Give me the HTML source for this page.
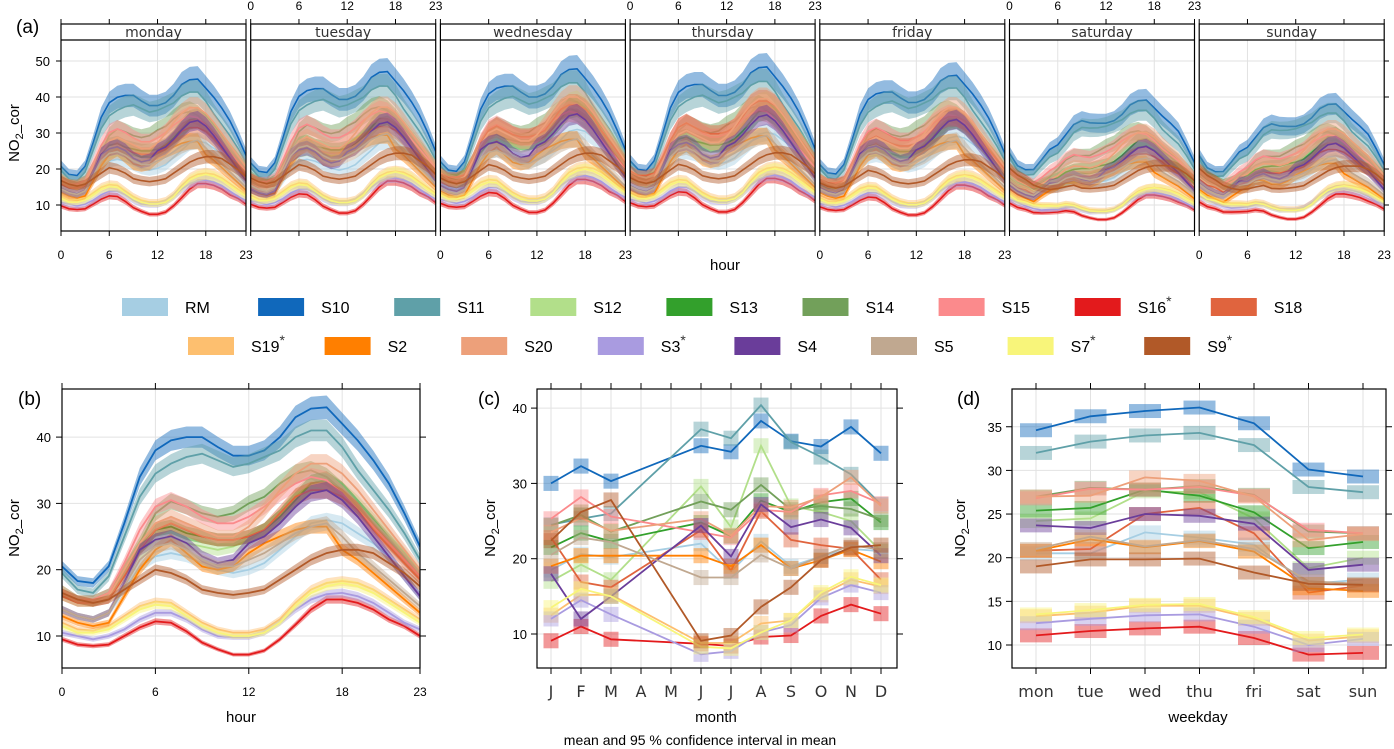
<!DOCTYPE html>
<html><head><meta charset="utf-8"><style>
html,body{margin:0;padding:0;background:#fff;}
svg{display:block;font-family:"Liberation Sans",sans-serif;}
</style></head><body>
<svg id="chart" width="1394" height="749" viewBox="0 0 1394 749" xmlns="http://www.w3.org/2000/svg"></svg>
<script>
// ---- data ----
const seriesNames = ["RM","S10","S11","S12","S13","S14","S15","S16","S18","S19","S2","S20","S3","S4","S5","S7","S9"];
const starred = ["S16","S19","S3","S7","S9"];
const colors = ["#a6cee3","#1068bb","#5fa0a8","#b2df8a","#33a02c","#72a05a","#fb8a8c","#e31a1c","#e0643e","#fdbf6f","#ff7f00","#eda07a","#a99be0","#6a3d9a","#c0a890","#f8f57a","#b15928"];
const hourTicks = [0,6,12,18,23];
const months = ["J","F","M","A","M","J","J","A","S","O","N","D"];
const weekdays = ["mon","tue","wed","thu","fri","sat","sun"];
const dayNames = ["monday","tuesday","wednesday","thursday","friday","saturday","sunday"];
const weekendShape = [1.35,1.3,1.25,1.1,0.95,0.85,0.8,0.85,0.92,0.95,0.97,1,1,1,1,1,1,1,1,1,1.02,1.05,1.05,1.05];

const hourRM  = [14,13,12.5,13.5,17,20.5,22,22.5,22,21,20,19.5,20,21,23,25,27,27.5,27,25.5,24,22,19,16];
const hourS10 = [20.5,18.3,18,20.5,27,34,38,39.5,40,40,38.5,37.2,37.2,38,40,43,44.3,44.5,42,39.5,36.5,33,28.5,23.5];
const hourS11 = [19.5,17,16.5,19,25,31,34.5,36,37,37.5,36.5,35.5,36,37,38,40,41,41,38.5,35,32,29,25.5,21.5];
const hourS12 = [16,15,15,16,19,22.5,24.5,25,24,23.5,23,23.5,24.5,26,28,31,33,33.5,32,30,27.5,25,22.5,19.5];
const hourS13 = [16.5,15.5,15.5,16.5,20,23.5,26,26.5,25.5,25,24.5,24.5,25,26,28,30.5,33,33.5,32,29.5,27,24,21.5,19];
const hourS14 = [17,15.5,15,16,20,24,28.5,30.3,29.5,28.5,28,28.5,30,31,33,34.5,35,34,32,29.5,27,24.5,22,19.5];
const hourS15 = [16.5,15.5,15.5,16.5,21,26,29.5,30.5,29.5,28,27,27,28,29.5,31.5,33,34,33.5,31.5,29,26.5,24,21.5,19];
const hourS16 = [9.5,8.7,8.5,8.7,10,11.3,12.2,12,10.7,9,8,7.2,7.2,7.8,9.5,11.7,14,15.5,15.5,15,14,12.5,11.5,10];
const hourS18 = [16,15,15,15.5,19,23,26,27,26,25,24.5,24.5,25,26,28.5,31,32,32,31,29,26,23.5,21,18.5];
const hourS19 = [12,11,10.8,11.5,13,14.5,15.2,15,13.5,12,11,10.5,10.5,11,12.5,15,17,18,18.3,18,17,15.5,14,12.5];
const hourS2  = [13,12,11.5,12,16,20,23,24.5,22.5,20.5,20,20.5,22.5,24,25,26,26.5,26.5,23,21.5,19.5,17.5,15.5,13.5];
const hourS20 = [17,15.5,15,16,20,24,27,28,27,26,25,25,26.5,29,32,34.5,36,36,34.5,32,29,26,23,20];
const hourS3  = [10.5,10,9.5,10,11,12.5,13.5,13.5,12.5,11,10,9.8,9.8,10.5,12,14,15.5,16.3,16.5,16,15,13.5,12,11];
const hourS4  = [14,13,12.5,13.5,18,23,24.5,25,24,22,21,21.5,24,25,27,29.5,31.5,32,30.5,28,25,22,19,16];
const hourS5  = [14,13,12.5,13.5,17.5,21.5,23.5,24,23,21.5,20.5,20.5,21.5,22.5,24,25.5,26.5,27,25,22.5,20.5,18.5,16.5,14.5];
const hourS7  = [11.5,10.5,10.5,11,12.5,14,14.7,14.5,13,11.5,10.5,10,10,10.5,12,14.5,16.5,17.5,18,17.5,16.5,15,13.5,12];
const hourS9  = [16.5,15.5,15,15.5,17,18.5,20,19.5,18.5,17,16.5,16.2,16.5,17,18.5,20,21.5,22.5,23,23,22.5,21,19.5,17.5];

const monRM  = [18.5,20.6,20.2,null,null,22,18.3,22.3,19,20.3,21.3,21];
const monS10 = [30,32.3,30.3,null,null,35,34.2,38.3,35.6,34.9,37.5,34];
const monS11 = [24.5,25.3,26,null,null,37.2,36,40.4,35.5,33.5,31.2,27.2];
const monS12 = [17,19.2,17.2,null,null,29.6,24.2,35,27,26.2,25,21];
const monS13 = [21.5,23.4,22.3,null,null,24.8,23,27.7,26.2,27.5,28,24.8];
const monS14 = [24.4,25.8,23.6,null,null,27.6,26.5,29.8,26.5,27,26.6,25.2];
const monS15 = [25.3,28.2,25.6,null,null,23.5,22.8,26.5,26.2,28.4,29,27.3];
const monS16 = [9.1,11,9.3,null,null,8.7,8.4,9.6,9.8,12.4,13.9,12.7];
const monS18 = [22.8,16.9,16.2,null,null,23.8,18.4,26.3,22.5,21.8,21.3,17.2];
const monS19 = [12.5,15.2,15.2,null,null,8.8,8.8,11.4,11.8,15.2,17.2,16.3];
const monS2  = [19,20.4,20.4,null,null,20.4,19,21.8,18.7,19.8,21.2,19.6];
const monS20 = [23.5,25.4,23.7,null,null,25.3,23.1,27,26.8,28.2,30.8,27];
const monS3  = [12,14.5,12.6,null,null,7.3,7.7,10.2,11.2,14.8,16.5,15.5];
const monS4  = [18,12,15,null,null,24.4,20.3,27.2,24.2,25.2,24.1,20.4];
const monS5  = [20.5,22.8,22.2,null,null,17.5,17.5,20.5,18.7,20.3,21.8,21.2];
const monS7  = [13.5,16,15,null,null,8.3,8.1,10.2,11.8,15.5,17.6,16.5];
const monS9  = [22.4,26.2,27.8,null,null,9.1,9.8,13.6,16.2,19.8,21.5,21.8];

const wdRM  = [20.5,20.5,22.9,22.3,21.5,17,17.5];
const wdS10 = [34.6,36.2,36.8,37.2,35.4,30.1,29.3];
const wdS11 = [32,33.3,34,34.3,32.9,28.1,27.5];
const wdS12 = [24.2,24.5,27.6,27.5,24.5,18.8,20];
const wdS13 = [25.4,25.7,27.8,27.1,25.2,21.1,21.8];
const wdS14 = [27,28,27.8,28.2,27.2,23,22.8];
const wdS15 = [26.8,27.9,27.8,28.1,27.1,23.2,22.8];
const wdS16 = [11.1,11.6,11.9,12.1,10.8,8.9,9.1];
const wdS18 = [20.8,21,25,25.7,22.8,16,16.8];
const wdS19 = [13.3,13.7,14.5,14.5,13,10.5,11];
const wdS2  = [20.8,22.1,21.2,21.9,20.7,16.5,16.2];
const wdS20 = [27,27.1,29.2,28.8,27,22,22.7];
const wdS3  = [12.5,13,13.4,13.5,12.1,10,10.7];
const wdS4  = [23.7,23.4,25,24.8,23.9,18.6,19.2];
const wdS5  = [21,22.4,21.3,22,21,17.3,17];
const wdS7  = [13.5,14,14.6,14.7,13.2,10.8,11.2];
const wdS9  = [19,19.8,19.8,19.9,18.3,17,16.9];

const hourly = [hourRM,hourS10,hourS11,hourS12,hourS13,hourS14,hourS15,hourS16,hourS18,hourS19,hourS2,hourS20,hourS3,hourS4,hourS5,hourS7,hourS9];
const monthly = [monRM,monS10,monS11,monS12,monS13,monS14,monS15,monS16,monS18,monS19,monS2,monS20,monS3,monS4,monS5,monS7,monS9];
const weekly = [wdRM,wdS10,wdS11,wdS12,wdS13,wdS14,wdS15,wdS16,wdS18,wdS19,wdS2,wdS20,wdS3,wdS4,wdS5,wdS7,wdS9];

// ---- helpers ----
const svg = document.getElementById('chart');
const NS = "http://www.w3.org/2000/svg";
function mk(tag, attrs, parent){
  const e = document.createElementNS(NS, tag);
  for (const k in attrs) e.setAttribute(k, attrs[k]);
  (parent||svg).appendChild(e);
  return e;
}
function txt(x,y,s,size,anchor,parent,extra){
  const t = mk('text',Object.assign({x:x,y:y,'font-size':size,'text-anchor':anchor||'middle',fill:'#000'},extra||{}),parent);
  t.textContent = s;
  return t;
}
let clipId = 0;
function clipRect(x,y,w,h){
  const id='clip'+(clipId++);
  const cp = mk('clipPath',{id:id});
  mk('rect',{x:x,y:y,width:w,height:h},cp);
  return 'url(#'+id+')';
}
function bandPath(pts){
  let d='M'+pts.map(p=>p[0].toFixed(1)+','+p[2].toFixed(1)).join('L');
  d+='L'+pts.slice().reverse().map(p=>p[0].toFixed(1)+','+p[1].toFixed(1)).join('L')+'Z';
  return d;
}
function linePath(pts){ return 'M'+pts.map(p=>p[0].toFixed(1)+','+p[1].toFixed(1)).join('L'); }

// ---- panel (a) ----
const aTop=61, aBottom=231, stripTop=24, stripBot=40, aW=185, aPitch=189.7, aLeft0=61;
const aY = v => 205 - (v-10)*3.6;
const gA = mk('g',{});


txt(16,33,'(a)',19,'start',gA);
for (let d=0; d<7; d++){
  const x0 = aLeft0 + d*aPitch;
  const ax = h => x0 + h*aW/23;
  const g = mk('g',{},gA);
  
  
  hourTicks.forEach(h=>mk('line',{x1:ax(h),x2:ax(h),y1:stripBot,y2:aBottom,stroke:'#e2e2e2','stroke-width':1},g));
  [10,20,30,40,50].forEach(v=>mk('line',{x1:x0,x2:x0+aW,y1:aY(v),y2:aY(v),stroke:'#e2e2e2','stroke-width':1},g));
  const cp = clipRect(x0,stripBot,aW,aBottom-stripBot);
  const gd = mk('g',{'clip-path':cp},g);
  seriesNames.forEach((s,i)=>{
    const wk = weekly[i];
    const mean = wk.reduce((a,b)=>a+b,0)/wk.length;
    const pts = hourly[i].map((v,h)=>{
      const val = v*wk[d]/mean*(d>=5?weekendShape[h]:1);
      return [ax(h), aY(val*0.92), aY(val*1.08), aY(val)];
    });
    const b = mk('path',{d:bandPath(pts),fill:colors[i],'fill-opacity':0.45,stroke:'none'},gd);
    
    
    const l = mk('path',{d:linePath(pts.map(p=>[p[0],p[3]])),fill:'none',stroke:colors[i],'stroke-width':1.6},gd);
    
    
  });
  mk('rect',{x:x0,y:stripTop,width:aW,height:aBottom-stripTop,fill:'none',stroke:'#000','stroke-width':1.2},g);
  mk('line',{x1:x0,x2:x0+aW,y1:stripBot,y2:stripBot,stroke:'#000','stroke-width':1.2},g);
  const st = txt(x0+aW/2,37,dayNames[d],14,'middle',g,{fill:'#333','font-family':'DejaVu Sans, sans-serif'});
  
  const bottomLabels = (d%2===0);
  hourTicks.forEach(h=>{
    mk('line',{x1:ax(h),x2:ax(h),y1:aBottom,y2:aBottom+5,stroke:'#000'},g);
    mk('line',{x1:ax(h),x2:ax(h),y1:stripTop,y2:stripTop-5,stroke:'#000'},g);
    if (bottomLabels) txt(ax(h),259,String(h),12,'middle',g);
    else txt(ax(h),10,String(h),12,'middle',g);
  });
}
[10,20,30,40,50].forEach(v=>{
  mk('line',{x1:61,x2:56,y1:aY(v),y2:aY(v),stroke:'#000'},gA);
  txt(50,aY(v)+5,String(v),13,'end',gA);
  mk('line',{x1:1384,x2:1389,y1:aY(v),y2:aY(v),stroke:'#000'},gA);
});
const aYt = txt(0,0,'',15,'middle',gA,{transform:'translate(19,133) rotate(-90)'});
aYt.innerHTML='NO<tspan font-size="11" dy="4">2</tspan><tspan dy="-4">_cor</tspan>';

txt(725,270,'hour',15,'middle',gA);

// ---- legend ----
const gL = mk('g',{});


seriesNames.forEach((s,i)=>{
  const row = i<9?0:1, col = i<9?i:i-9;
  const rx = row===0 ? 122+col*136.1 : 188+col*136.6;
  const ry = row===0 ? 298 : 337;
  const ge = mk('g',{},gL);
  
  
  mk('rect',{x:rx,y:ry,width:46,height:18,fill:colors[i]},ge);
  const t = txt(rx+63,ry+15,s,16,'start',ge);
  if (starred.indexOf(s)>=0){
    const sp = mk('tspan',{'font-size':14,dy:-7,fill:'#333'},t); sp.textContent='*';
  }
});

function framePanel(g,x0,y0,x1,y1){
  mk('rect',{x:x0,y:y0,width:x1-x0,height:y1-y0,fill:'none',stroke:'#000','stroke-width':1.2},g);
}
function yTitle(g,x,y){
  const t = txt(0,0,'',15,'middle',g,{transform:'translate('+x+','+y+') rotate(-90)'});
  t.innerHTML='NO<tspan font-size="11" dy="4">2</tspan><tspan dy="-4">_cor</tspan>';
  return t;
}

// ---- panel (b) ----
(function(){
  const L=62,R=420,T=389,B=668;
  const bx = h => L + h*(R-L)/23;
  const by = v => 636 - (v-10)*6.63;
  const g = mk('g',{});
  
  
  hourTicks.forEach(h=>mk('line',{x1:bx(h),x2:bx(h),y1:T,y2:B,stroke:'#e2e2e2'},g));
  [10,20,30,40].forEach(v=>mk('line',{x1:L,x2:R,y1:by(v),y2:by(v),stroke:'#e2e2e2'},g));
  const gd = mk('g',{'clip-path':clipRect(L,T,R-L,B-T)},g);
  seriesNames.forEach((s,i)=>{
    const pts = hourly[i].map((v,h)=>[bx(h),by(v*0.96),by(v*1.04),by(v)]);
    const b = mk('path',{d:bandPath(pts),fill:colors[i],'fill-opacity':0.45},gd);
    
    
    const l = mk('path',{d:linePath(pts.map(p=>[p[0],p[3]])),fill:'none',stroke:colors[i],'stroke-width':1.8},gd);
    
    
  });
  framePanel(g,L,T,R,B);
  hourTicks.forEach(h=>{
    mk('line',{x1:bx(h),x2:bx(h),y1:B,y2:B+6,stroke:'#000'},g);
    mk('line',{x1:bx(h),x2:bx(h),y1:T,y2:T-6,stroke:'#000'},g);
    txt(bx(h),696,String(h),12,'middle',g);
  });
  [10,20,30,40].forEach(v=>{
    mk('line',{x1:L,x2:L-6,y1:by(v),y2:by(v),stroke:'#000'},g);
    mk('line',{x1:R,x2:R+6,y1:by(v),y2:by(v),stroke:'#000'},g);
    txt(L-11,by(v)+5,String(v),13,'end',g);
  });
  txt(18,405,'(b)',19,'start',g);
  yTitle(g,19,528);
  txt(241,722,'hour',15,'middle',g);
})();

// ---- panel (c) ----
(function(){
  const L=537,R=897,T=389,B=668;
  const cx = m => 551 + m*(881-551)/11;
  const cy = v => 634 - (v-10)*7.53;
  const g = mk('g',{});
  
  
  months.forEach((m,k)=>mk('line',{x1:cx(k),x2:cx(k),y1:T,y2:B,stroke:'#e2e2e2'},g));
  [10,20,30,40].forEach(v=>mk('line',{x1:L,x2:R,y1:cy(v),y2:cy(v),stroke:'#e2e2e2'},g));
  const gd = mk('g',{'clip-path':clipRect(L,T,R-L,B-T)},g);
  seriesNames.forEach((s,i)=>{
    const pts=[];
    monthly[i].forEach((v,k)=>{
      if (v===null) return;
      const r = mk('rect',{x:cx(k)-7.5,y:cy(v+1),width:15,height:cy(v-1)-cy(v+1),fill:colors[i],'fill-opacity':0.45},gd);
      
      
      pts.push([cx(k),cy(v)]);
    });
    const l = mk('path',{d:linePath(pts),fill:'none',stroke:colors[i],'stroke-width':1.8},gd);
    
    
  });
  framePanel(g,L,T,R,B);
  months.forEach((m,k)=>{
    mk('line',{x1:cx(k),x2:cx(k),y1:B,y2:B+6,stroke:'#000'},g);
    mk('line',{x1:cx(k),x2:cx(k),y1:T,y2:T-6,stroke:'#000'},g);
    txt(cx(k),697,m,16,'middle',g,{fill:'#333','font-family':'DejaVu Sans, sans-serif'});
  });
  [10,20,30,40].forEach(v=>{
    mk('line',{x1:L,x2:L-6,y1:cy(v),y2:cy(v),stroke:'#000'},g);
    mk('line',{x1:R,x2:R+6,y1:cy(v),y2:cy(v),stroke:'#000'},g);
    txt(L-10,cy(v)+5,String(v),13,'end',g);
  });
  txt(478,405,'(c)',19,'start',g);
  yTitle(g,495,528);
  txt(716,722,'month',15,'middle',g);
})();

// ---- panel (d) ----
(function(){
  const L=1012,R=1386,T=389,B=668;
  const dx = k => 1036 + k*(1363-1036)/6;
  const dy = v => 645 - (v-10)*8.73;
  const g = mk('g',{});
  
  
  weekdays.forEach((w,k)=>mk('line',{x1:dx(k),x2:dx(k),y1:T,y2:B,stroke:'#e2e2e2'},g));
  [10,15,20,25,30,35].forEach(v=>mk('line',{x1:L,x2:R,y1:dy(v),y2:dy(v),stroke:'#e2e2e2'},g));
  const gd = mk('g',{'clip-path':clipRect(L,T,R-L,B-T)},g);
  seriesNames.forEach((s,i)=>{
    const pts=[];
    weekly[i].forEach((v,k)=>{
      const r = mk('rect',{x:dx(k)-16,y:dy(v+0.8),width:32,height:dy(v-0.8)-dy(v+0.8),fill:colors[i],'fill-opacity':0.45},gd);
      
      
      pts.push([dx(k),dy(v)]);
    });
    const l = mk('path',{d:linePath(pts),fill:'none',stroke:colors[i],'stroke-width':1.8},gd);
    
    
  });
  framePanel(g,L,T,R,B);
  weekdays.forEach((w,k)=>{
    mk('line',{x1:dx(k),x2:dx(k),y1:B,y2:B+6,stroke:'#000'},g);
    mk('line',{x1:dx(k),x2:dx(k),y1:T,y2:T-6,stroke:'#000'},g);
    txt(dx(k),697,w,16,'middle',g,{fill:'#333','font-family':'DejaVu Sans, sans-serif'});
  });
  [10,15,20,25,30,35].forEach(v=>{
    mk('line',{x1:L,x2:L-6,y1:dy(v),y2:dy(v),stroke:'#000'},g);
    mk('line',{x1:R,x2:R+6,y1:dy(v),y2:dy(v),stroke:'#000'},g);
    txt(L-10,dy(v)+5,String(v),13,'end',g);
  });
  txt(957,405,'(d)',19,'start',g);
  yTitle(g,965,528);
  txt(1198,722,'weekday',15,'middle',g);
})();

const cap = txt(700,745,'mean and 95 % confidence interval in mean',14,'middle');


</script>
</body></html>
